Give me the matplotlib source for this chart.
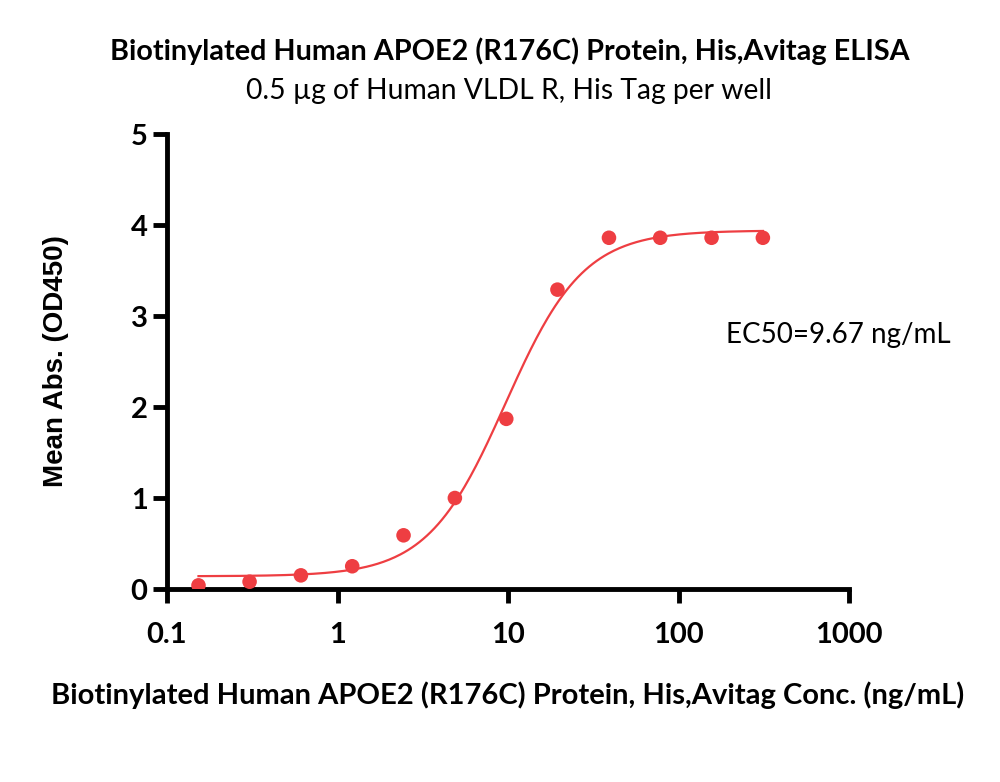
import matplotlib

matplotlib.use("Agg")
import matplotlib.pyplot as plt
import numpy as np
from matplotlib.ticker import FixedLocator, NullLocator

# data
conc = [0.153, 0.305, 0.61, 1.22, 2.44, 4.88, 9.77, 19.5, 39.1, 78.1, 156.3, 312.5]
od450 = [0.04, 0.08, 0.15, 0.25, 0.59, 1.00, 1.87, 3.29, 3.86, 3.86, 3.86, 3.86]

# 4PL fit parameters (estimated from the drawn curve)
fit_bottom = 0.14
fit_top = 3.94
fit_ec50 = 9.67
fit_hill = 1.9

x_ticks = [0.1, 1, 10, 100, 1000]
x_ticklabels = ["0.1", "1", "10", "100", "1000"]
y_ticks = [0, 1, 2, 3, 4, 5]

title = "Biotinylated Human APOE2 (R176C) Protein, His,Avitag ELISA"
subtitle = "0.5 µg of Human VLDL R, His Tag per well"
xlabel = "Biotinylated Human APOE2 (R176C) Protein, His,Avitag Conc. (ng/mL)"
ylabel = "Mean Abs. (OD450)"
ec50_text = "EC50=9.67 ng/mL"

red = "#EE3E42"
font_main = ["Lato", "DejaVu Sans"]

fig = plt.figure(figsize=(10, 7.82), dpi=100)
ax = fig.add_axes([0.167, 0.2468, 0.682, 0.5818])

xs = np.logspace(np.log10(conc[0]), np.log10(conc[-1]), 300)
ys = fit_bottom + (fit_top - fit_bottom) / (1 + (fit_ec50 / xs) ** fit_hill)
ax.plot(xs, ys, color=red, linewidth=1.6, zorder=2)
ax.scatter(conc, od450, s=110, color=red, edgecolors="none", zorder=3)

ax.set_xscale("log")
ax.set_xlim(0.1, 1000)
ax.set_ylim(0, 5)
ax.xaxis.set_major_locator(FixedLocator(x_ticks))
ax.xaxis.set_minor_locator(NullLocator())
ax.set_xticklabels(x_ticklabels)
ax.set_yticks(y_ticks)

for side in ("top", "right"):
    ax.spines[side].set_visible(False)
for side in ("left", "bottom"):
    ax.spines[side].set_linewidth(3.5)
ax.tick_params(axis="both", width=3.5, length=10, direction="out")
ax.tick_params(axis="x", pad=14)
ax.tick_params(axis="y", pad=4)
for lab in ax.get_xticklabels() + ax.get_yticklabels():
    lab.set_fontfamily(font_main)
    lab.set_fontweight("bold")
    lab.set_fontsize(21)

ax.set_xlabel(xlabel, fontsize=21, fontweight="bold", family=font_main, labelpad=24)
ax.set_ylabel(ylabel, fontsize=20, fontweight="bold",
              family=["Liberation Sans", "DejaVu Sans"], labelpad=44)

ax.text(0.984, 0.558, ec50_text, transform=ax.transAxes, fontsize=20,
        family=font_main, ha="center", va="center")

fig.text(0.51, 0.934, title, fontsize=20.7, fontweight="bold", family=font_main,
         ha="center", va="center")
fig.text(0.509, 0.884, subtitle, fontsize=20.3, family=font_main,
         ha="center", va="center")

fig.savefig("out.png", dpi=100)
